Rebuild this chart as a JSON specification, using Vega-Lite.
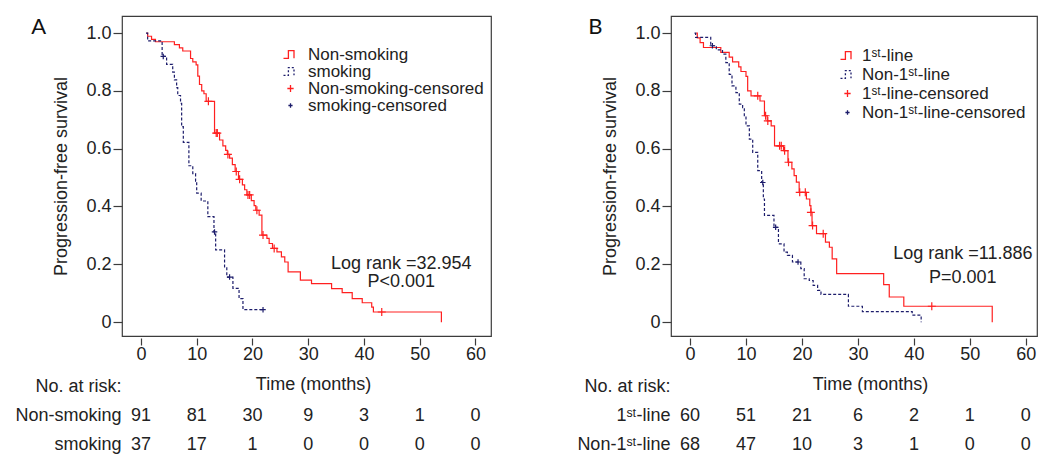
{
  "$schema": "https://vega.github.io/schema/vega-lite/v6.json",
  "background": "white",
  "padding": {"left": 14, "top": 15, "right": 5, "bottom": 0},
  "config": {
    "font": "Liberation Sans",
    "view": {"stroke": "#3c3c3c", "strokeWidth": 1.2},
    "axis": {"labelFont": "Liberation Sans", "titleFont": "Liberation Sans", "labelFontSize": 18, "titleFontSize": 18, "titleFontWeight": "normal", "labelColor": "#222", "titleColor": "#222", "tickColor": "#3c3c3c", "tickWidth": 1.2, "grid": false, "domain": false},
    "legend": {"labelFont": "Liberation Sans", "labelFontSize": 17, "labelColor": "#222", "symbolSize": 196, "rowPadding": 0, "labelOffset": 6, "symbolStrokeWidth": 1.3, "padding": 0, "labelLimit": 400}
  },
  "resolve": {"scale": {"color": "independent", "strokeDash": "independent", "size": "independent", "x": "independent", "y": "independent"}, "legend": {"color": "independent"}},
  "datasets": {
    "kmA": [
      {"g": "Non-smoking", "t": 1.0, "s": 1.0}, {"g": "Non-smoking", "t": 1.2, "s": 0.989}, {"g": "Non-smoking", "t": 1.9, "s": 0.978}, {"g": "Non-smoking", "t": 2.6, "s": 0.970},
      {"g": "Non-smoking", "t": 6.0, "s": 0.960}, {"g": "Non-smoking", "t": 6.9, "s": 0.949}, {"g": "Non-smoking", "t": 7.5, "s": 0.938}, {"g": "Non-smoking", "t": 8.9, "s": 0.912},
      {"g": "Non-smoking", "t": 9.3, "s": 0.900}, {"g": "Non-smoking", "t": 9.9, "s": 0.890}, {"g": "Non-smoking", "t": 10.2, "s": 0.851}, {"g": "Non-smoking", "t": 10.5, "s": 0.822},
      {"g": "Non-smoking", "t": 10.9, "s": 0.800}, {"g": "Non-smoking", "t": 11.3, "s": 0.790}, {"g": "Non-smoking", "t": 11.7, "s": 0.764}, {"g": "Non-smoking", "t": 13.2, "s": 0.654},
      {"g": "Non-smoking", "t": 14.1, "s": 0.630}, {"g": "Non-smoking", "t": 14.7, "s": 0.610}, {"g": "Non-smoking", "t": 15.2, "s": 0.594}, {"g": "Non-smoking", "t": 15.5, "s": 0.580},
      {"g": "Non-smoking", "t": 15.9, "s": 0.567}, {"g": "Non-smoking", "t": 16.4, "s": 0.545}, {"g": "Non-smoking", "t": 16.9, "s": 0.521}, {"g": "Non-smoking", "t": 17.5, "s": 0.494},
      {"g": "Non-smoking", "t": 18.2, "s": 0.475}, {"g": "Non-smoking", "t": 18.6, "s": 0.458}, {"g": "Non-smoking", "t": 19.0, "s": 0.440}, {"g": "Non-smoking", "t": 19.8, "s": 0.420},
      {"g": "Non-smoking", "t": 20.3, "s": 0.403}, {"g": "Non-smoking", "t": 20.6, "s": 0.387}, {"g": "Non-smoking", "t": 21.2, "s": 0.370}, {"g": "Non-smoking", "t": 21.7, "s": 0.301},
      {"g": "Non-smoking", "t": 22.6, "s": 0.290}, {"g": "Non-smoking", "t": 23.0, "s": 0.272}, {"g": "Non-smoking", "t": 23.6, "s": 0.255}, {"g": "Non-smoking", "t": 24.4, "s": 0.243},
      {"g": "Non-smoking", "t": 25.2, "s": 0.226}, {"g": "Non-smoking", "t": 25.8, "s": 0.208}, {"g": "Non-smoking", "t": 26.4, "s": 0.174}, {"g": "Non-smoking", "t": 28.6, "s": 0.145},
      {"g": "Non-smoking", "t": 30.6, "s": 0.133}, {"g": "Non-smoking", "t": 34.2, "s": 0.116}, {"g": "Non-smoking", "t": 36.1, "s": 0.102}, {"g": "Non-smoking", "t": 37.9, "s": 0.081},
      {"g": "Non-smoking", "t": 39.7, "s": 0.067}, {"g": "Non-smoking", "t": 41.4, "s": 0.052}, {"g": "Non-smoking", "t": 41.7, "s": 0.035}, {"g": "Non-smoking", "t": 53.9, "s": 0.0},
      {"g": "smoking", "t": 0.9, "s": 1.0}, {"g": "smoking", "t": 1.2, "s": 0.973}, {"g": "smoking", "t": 3.8, "s": 0.919}, {"g": "smoking", "t": 4.6, "s": 0.892},
      {"g": "smoking", "t": 5.7, "s": 0.865}, {"g": "smoking", "t": 6.0, "s": 0.838}, {"g": "smoking", "t": 6.4, "s": 0.811}, {"g": "smoking", "t": 6.6, "s": 0.784},
      {"g": "smoking", "t": 7.1, "s": 0.757}, {"g": "smoking", "t": 7.3, "s": 0.676}, {"g": "smoking", "t": 7.6, "s": 0.622}, {"g": "smoking", "t": 8.6, "s": 0.541},
      {"g": "smoking", "t": 9.3, "s": 0.514}, {"g": "smoking", "t": 9.8, "s": 0.487}, {"g": "smoking", "t": 10.0, "s": 0.446}, {"g": "smoking", "t": 10.8, "s": 0.419},
      {"g": "smoking", "t": 12.0, "s": 0.365}, {"g": "smoking", "t": 13.1, "s": 0.312}, {"g": "smoking", "t": 13.4, "s": 0.250}, {"g": "smoking", "t": 15.0, "s": 0.191},
      {"g": "smoking", "t": 15.4, "s": 0.156}, {"g": "smoking", "t": 16.5, "s": 0.117}, {"g": "smoking", "t": 17.6, "s": 0.081}, {"g": "smoking", "t": 18.3, "s": 0.043},
      {"g": "smoking", "t": 21.9, "s": 0.043}
    ],
    "censA": [
      {"g": "Non-smoking-censored", "t": 12.1, "s": 0.764}, {"g": "Non-smoking-censored", "t": 13.5, "s": 0.654}, {"g": "Non-smoking-censored", "t": 13.7, "s": 0.654},
      {"g": "Non-smoking-censored", "t": 15.6, "s": 0.580}, {"g": "Non-smoking-censored", "t": 17.1, "s": 0.521}, {"g": "Non-smoking-censored", "t": 17.7, "s": 0.494},
      {"g": "Non-smoking-censored", "t": 19.2, "s": 0.440}, {"g": "Non-smoking-censored", "t": 19.5, "s": 0.440}, {"g": "Non-smoking-censored", "t": 20.8, "s": 0.387},
      {"g": "Non-smoking-censored", "t": 21.9, "s": 0.301}, {"g": "Non-smoking-censored", "t": 23.9, "s": 0.255}, {"g": "Non-smoking-censored", "t": 43.2, "s": 0.035},
      {"g": "smoking-censored", "t": 4.0, "s": 0.919}, {"g": "smoking-censored", "t": 13.2, "s": 0.312}, {"g": "smoking-censored", "t": 15.9, "s": 0.156},
      {"g": "smoking-censored", "t": 21.9, "s": 0.043}
    ],
    "kmB": [
      {"g": "1ˢᵗ-line", "t": 1.1, "s": 1.0}, {"g": "1ˢᵗ-line", "t": 1.3, "s": 0.983}, {"g": "1ˢᵗ-line", "t": 1.8, "s": 0.967}, {"g": "1ˢᵗ-line", "t": 2.4, "s": 0.950},
      {"g": "1ˢᵗ-line", "t": 5.5, "s": 0.933}, {"g": "1ˢᵗ-line", "t": 7.0, "s": 0.917}, {"g": "1ˢᵗ-line", "t": 7.6, "s": 0.900}, {"g": "1ˢᵗ-line", "t": 8.7, "s": 0.883},
      {"g": "1ˢᵗ-line", "t": 9.1, "s": 0.867}, {"g": "1ˢᵗ-line", "t": 10.0, "s": 0.850}, {"g": "1ˢᵗ-line", "t": 10.3, "s": 0.800}, {"g": "1ˢᵗ-line", "t": 10.9, "s": 0.783},
      {"g": "1ˢᵗ-line", "t": 12.5, "s": 0.765}, {"g": "1ˢᵗ-line", "t": 13.3, "s": 0.714}, {"g": "1ˢᵗ-line", "t": 13.8, "s": 0.696}, {"g": "1ˢᵗ-line", "t": 14.5, "s": 0.679},
      {"g": "1ˢᵗ-line", "t": 15.1, "s": 0.610}, {"g": "1ˢᵗ-line", "t": 16.7, "s": 0.593}, {"g": "1ˢᵗ-line", "t": 17.5, "s": 0.553}, {"g": "1ˢᵗ-line", "t": 18.2, "s": 0.530},
      {"g": "1ˢᵗ-line", "t": 18.6, "s": 0.507}, {"g": "1ˢᵗ-line", "t": 19.0, "s": 0.484}, {"g": "1ˢᵗ-line", "t": 19.5, "s": 0.449}, {"g": "1ˢᵗ-line", "t": 20.8, "s": 0.426},
      {"g": "1ˢᵗ-line", "t": 21.4, "s": 0.403}, {"g": "1ˢᵗ-line", "t": 21.6, "s": 0.380}, {"g": "1ˢᵗ-line", "t": 21.8, "s": 0.334}, {"g": "1ˢᵗ-line", "t": 22.6, "s": 0.306},
      {"g": "1ˢᵗ-line", "t": 24.2, "s": 0.277}, {"g": "1ˢᵗ-line", "t": 24.9, "s": 0.259}, {"g": "1ˢᵗ-line", "t": 25.4, "s": 0.219}, {"g": "1ˢᵗ-line", "t": 26.2, "s": 0.168},
      {"g": "1ˢᵗ-line", "t": 34.6, "s": 0.130}, {"g": "1ˢᵗ-line", "t": 35.6, "s": 0.087}, {"g": "1ˢᵗ-line", "t": 38.2, "s": 0.055}, {"g": "1ˢᵗ-line", "t": 54.0, "s": 0.0},
      {"g": "Non-1ˢᵗ-line", "t": 0.8, "s": 1.0}, {"g": "Non-1ˢᵗ-line", "t": 1.0, "s": 0.985}, {"g": "Non-1ˢᵗ-line", "t": 3.7, "s": 0.956}, {"g": "Non-1ˢᵗ-line", "t": 4.7, "s": 0.942},
      {"g": "Non-1ˢᵗ-line", "t": 5.8, "s": 0.927}, {"g": "Non-1ˢᵗ-line", "t": 6.4, "s": 0.898}, {"g": "Non-1ˢᵗ-line", "t": 7.0, "s": 0.857}, {"g": "Non-1ˢᵗ-line", "t": 7.5, "s": 0.817},
      {"g": "Non-1ˢᵗ-line", "t": 8.2, "s": 0.794}, {"g": "Non-1ˢᵗ-line", "t": 8.8, "s": 0.754}, {"g": "Non-1ˢᵗ-line", "t": 9.4, "s": 0.742}, {"g": "Non-1ˢᵗ-line", "t": 9.7, "s": 0.714},
      {"g": "Non-1ˢᵗ-line", "t": 10.0, "s": 0.679}, {"g": "Non-1ˢᵗ-line", "t": 10.6, "s": 0.633}, {"g": "Non-1ˢᵗ-line", "t": 11.2, "s": 0.587}, {"g": "Non-1ˢᵗ-line", "t": 12.1, "s": 0.524},
      {"g": "Non-1ˢᵗ-line", "t": 12.8, "s": 0.483}, {"g": "Non-1ˢᵗ-line", "t": 13.1, "s": 0.426}, {"g": "Non-1ˢᵗ-line", "t": 13.3, "s": 0.369}, {"g": "Non-1ˢᵗ-line", "t": 15.0, "s": 0.328},
      {"g": "Non-1ˢᵗ-line", "t": 15.8, "s": 0.271}, {"g": "Non-1ˢᵗ-line", "t": 16.8, "s": 0.242}, {"g": "Non-1ˢᵗ-line", "t": 17.4, "s": 0.231}, {"g": "Non-1ˢᵗ-line", "t": 18.3, "s": 0.208},
      {"g": "Non-1ˢᵗ-line", "t": 19.8, "s": 0.185}, {"g": "Non-1ˢᵗ-line", "t": 20.4, "s": 0.150}, {"g": "Non-1ˢᵗ-line", "t": 21.3, "s": 0.144}, {"g": "Non-1ˢᵗ-line", "t": 22.0, "s": 0.127},
      {"g": "Non-1ˢᵗ-line", "t": 22.8, "s": 0.110}, {"g": "Non-1ˢᵗ-line", "t": 23.4, "s": 0.096}, {"g": "Non-1ˢᵗ-line", "t": 28.3, "s": 0.055}, {"g": "Non-1ˢᵗ-line", "t": 30.8, "s": 0.036},
      {"g": "Non-1ˢᵗ-line", "t": 39.7, "s": 0.024}, {"g": "Non-1ˢᵗ-line", "t": 41.3, "s": 0.0}
    ],
    "censB": [
      {"g": "1ˢᵗ-line-censored", "t": 12.1, "s": 0.783}, {"g": "1ˢᵗ-line-censored", "t": 13.5, "s": 0.714}, {"g": "1ˢᵗ-line-censored", "t": 13.9, "s": 0.696},
      {"g": "1ˢᵗ-line-censored", "t": 16.0, "s": 0.610}, {"g": "1ˢᵗ-line-censored", "t": 16.3, "s": 0.610}, {"g": "1ˢᵗ-line-censored", "t": 16.9, "s": 0.593},
      {"g": "1ˢᵗ-line-censored", "t": 17.6, "s": 0.553}, {"g": "1ˢᵗ-line-censored", "t": 19.6, "s": 0.449}, {"g": "1ˢᵗ-line-censored", "t": 20.6, "s": 0.449},
      {"g": "1ˢᵗ-line-censored", "t": 21.6, "s": 0.380}, {"g": "1ˢᵗ-line-censored", "t": 21.9, "s": 0.334}, {"g": "1ˢᵗ-line-censored", "t": 23.8, "s": 0.306},
      {"g": "1ˢᵗ-line-censored", "t": 43.2, "s": 0.055},
      {"g": "Non-1ˢᵗ-line-censored", "t": 4.0, "s": 0.956}, {"g": "Non-1ˢᵗ-line-censored", "t": 13.0, "s": 0.483}, {"g": "Non-1ˢᵗ-line-censored", "t": 15.3, "s": 0.328},
      {"g": "Non-1ˢᵗ-line-censored", "t": 19.3, "s": 0.208}
    ],
    "riskA": [
      {"row": "Non-smoking", "t": 0, "n": "91"}, {"row": "Non-smoking", "t": 10, "n": "81"}, {"row": "Non-smoking", "t": 20, "n": "30"}, {"row": "Non-smoking", "t": 30, "n": "9"},
      {"row": "Non-smoking", "t": 40, "n": "3"}, {"row": "Non-smoking", "t": 50, "n": "1"}, {"row": "Non-smoking", "t": 60, "n": "0"},
      {"row": "smoking", "t": 0, "n": "37"}, {"row": "smoking", "t": 10, "n": "17"}, {"row": "smoking", "t": 20, "n": "1"}, {"row": "smoking", "t": 30, "n": "0"},
      {"row": "smoking", "t": 40, "n": "0"}, {"row": "smoking", "t": 50, "n": "0"}, {"row": "smoking", "t": 60, "n": "0"}
    ],
    "riskB": [
      {"row": "1ˢᵗ-line", "t": 0, "n": "60"}, {"row": "1ˢᵗ-line", "t": 10, "n": "51"}, {"row": "1ˢᵗ-line", "t": 20, "n": "21"}, {"row": "1ˢᵗ-line", "t": 30, "n": "6"},
      {"row": "1ˢᵗ-line", "t": 40, "n": "2"}, {"row": "1ˢᵗ-line", "t": 50, "n": "1"}, {"row": "1ˢᵗ-line", "t": 60, "n": "0"},
      {"row": "Non-1ˢᵗ-line", "t": 0, "n": "68"}, {"row": "Non-1ˢᵗ-line", "t": 10, "n": "47"}, {"row": "Non-1ˢᵗ-line", "t": 20, "n": "10"}, {"row": "Non-1ˢᵗ-line", "t": 30, "n": "3"},
      {"row": "Non-1ˢᵗ-line", "t": 40, "n": "1"}, {"row": "Non-1ˢᵗ-line", "t": 50, "n": "0"}, {"row": "Non-1ˢᵗ-line", "t": 60, "n": "0"}
    ],
    "notesA": [{"txt": "A"}],
    "notesB": [{"txt": "B"}]
  },
  "columns": 2,
  "bounds": "flush",
  "spacing": {"row": 36, "column": 180},
  "concat": [
    {
      "width": 369, "height": 320,
      "layer": [
        {
          "data": {"name": "kmA"},
          "mark": {"type": "line", "interpolate": "step-after", "strokeWidth": 1.2, "clip": true},
          "encoding": {
            "x": {"field": "t", "type": "quantitative", "title": "Time (months)", "scale": {"domain": [-3.4, 62.8], "nice": false, "zero": false},
                  "axis": {"values": [0, 10, 20, 30, 40, 50, 60], "tickSize": 7, "offset": 2, "labelPadding": 0, "labelFlush": false, "titleX": 191, "titleY": 46, "titleBaseline": "middle"}},
            "y": {"field": "s", "type": "quantitative", "title": "Progression-free survival", "scale": {"domain": [-0.048, 1.059], "nice": false, "zero": false},
                  "axis": {"values": [0, 0.2, 0.4, 0.6, 0.8, 1], "tickSize": 9, "labelPadding": 2, "labelExpr": "datum.value == 0 ? '0' : format(datum.value, '.1f')", "titlePadding": 15}},
            "color": {"field": "g", "type": "nominal",
              "scale": {"domain": ["Non-smoking", "smoking", "Non-smoking-censored", "smoking-censored"], "range": ["#ff2020", "#1c1c6b", "#ff2020", "#1c1c6b"]},
              "legend": {"orient": "none", "legendX": 160, "legendY": 30, "title": null, "rowPadding": -1, "labelOffset": 9,
                "encode": {"symbols": {"update": {
                  "shape": {"signal": "indexof(datum.value,'censored')>=0 ? ((indexof(datum.value,'smoking')==0 || indexof(datum.value,'Non-1')==0) ? 'M-0.3,0H0.3M0,-0.32V0.32' : 'M-0.45,0H0.45M0,-0.5V0.5') : 'M-1,0.55H-0.3V-0.55H0.5V0.55'"},
                  "stroke": {"signal": "(indexof(datum.value,'smoking')==0 || indexof(datum.value,'Non-1')==0) ? '#1c1c6b' : '#ff2020'"},
                  "strokeDash": {"signal": "((indexof(datum.value,'smoking')==0 || indexof(datum.value,'Non-1')==0) && indexof(datum.value,'censored')<0) ? [2,2] : [1,0]"},
                  "fill": {"value": "transparent"},
                  "opacity": {"value": 1}
                }}}}},
            "strokeDash": {"field": "g", "type": "nominal", "scale": {"domain": ["Non-smoking", "smoking"], "range": [[1, 0], [3, 2]]}, "legend": null}
          }
        },
        {
          "data": {"name": "censA"},
          "mark": {"type": "point", "shape": "M-1,0H1M0,-1V1", "filled": false, "strokeWidth": 1.2, "opacity": 1},
          "encoding": {
            "x": {"field": "t", "type": "quantitative", "title": "Time (months)"},
            "y": {"field": "s", "type": "quantitative", "title": "Progression-free survival"},
            "color": {"field": "g", "type": "nominal"},
            "size": {"field": "g", "type": "ordinal", "scale": {"domain": ["Non-smoking-censored", "smoking-censored"], "range": [64, 30]}, "legend": null}
          }
        },
        {
          "data": {"name": "notesA"},
          "mark": {"type": "text", "text": ["Log rank =32.954", "P<0.001"], "fontSize": 18, "lineHeight": 18, "align": "center", "baseline": "middle", "color": "#222"},
          "encoding": {"x": {"datum": 46.7, "title": "Time (months)"}, "y": {"datum": 0.201, "title": "Progression-free survival"}}
        },
        {
          "data": {"name": "notesA"},
          "mark": {"type": "text", "font": "Lato", "fontSize": 22, "align": "left", "baseline": "alphabetic", "color": "#111"},
          "encoding": {"text": {"field": "txt"}, "x": {"datum": -19.7, "title": "Time (months)"}, "y": {"datum": 0.997, "title": "Progression-free survival"}}
        }
      ]
    },
    {
      "width": 366, "height": 320,
      "layer": [
        {
          "data": {"name": "kmB"},
          "mark": {"type": "line", "interpolate": "step-after", "strokeWidth": 1.2, "clip": true},
          "encoding": {
            "x": {"field": "t", "type": "quantitative", "title": "Time (months)", "scale": {"domain": [-3.4, 62.0], "nice": false, "zero": false},
                  "axis": {"values": [0, 10, 20, 30, 40, 50, 60], "tickSize": 7, "offset": 2, "labelPadding": 0, "labelFlush": false, "titleX": 199, "titleY": 46, "titleBaseline": "middle"}},
            "y": {"field": "s", "type": "quantitative", "title": "Progression-free survival", "scale": {"domain": [-0.048, 1.059], "nice": false, "zero": false},
                  "axis": {"values": [0, 0.2, 0.4, 0.6, 0.8, 1], "tickSize": 9, "labelPadding": 2, "labelExpr": "datum.value == 0 ? '0' : format(datum.value, '.1f')", "titlePadding": 15}},
            "color": {"field": "g", "type": "nominal",
              "scale": {"domain": ["1ˢᵗ-line", "Non-1ˢᵗ-line", "1ˢᵗ-line-censored", "Non-1ˢᵗ-line-censored"], "range": ["#ff2020", "#1c1c6b", "#ff2020", "#1c1c6b"]},
              "legend": {"orient": "none", "legendX": 168, "legendY": 31, "title": null, "rowPadding": 1,
                "encode": {"symbols": {"update": {
                  "shape": {"signal": "indexof(datum.value,'censored')>=0 ? ((indexof(datum.value,'smoking')==0 || indexof(datum.value,'Non-1')==0) ? 'M-0.3,0H0.3M0,-0.32V0.32' : 'M-0.45,0H0.45M0,-0.5V0.5') : 'M-1,0.55H-0.3V-0.55H0.5V0.55'"},
                  "stroke": {"signal": "(indexof(datum.value,'smoking')==0 || indexof(datum.value,'Non-1')==0) ? '#1c1c6b' : '#ff2020'"},
                  "strokeDash": {"signal": "((indexof(datum.value,'smoking')==0 || indexof(datum.value,'Non-1')==0) && indexof(datum.value,'censored')<0) ? [2,2] : [1,0]"},
                  "fill": {"value": "transparent"},
                  "opacity": {"value": 1}
                }}}}},
            "strokeDash": {"field": "g", "type": "nominal", "scale": {"domain": ["1ˢᵗ-line", "Non-1ˢᵗ-line"], "range": [[1, 0], [3, 2]]}, "legend": null}
          }
        },
        {
          "data": {"name": "censB"},
          "mark": {"type": "point", "shape": "M-1,0H1M0,-1V1", "filled": false, "strokeWidth": 1.2, "opacity": 1},
          "encoding": {
            "x": {"field": "t", "type": "quantitative", "title": "Time (months)"},
            "y": {"field": "s", "type": "quantitative", "title": "Progression-free survival"},
            "color": {"field": "g", "type": "nominal"},
            "size": {"field": "g", "type": "ordinal", "scale": {"domain": ["1ˢᵗ-line-censored", "Non-1ˢᵗ-line-censored"], "range": [64, 30]}, "legend": null}
          }
        },
        {
          "data": {"name": "notesB"},
          "mark": {"type": "text", "text": ["Log rank =11.886", "P=0.001"], "fontSize": 18, "lineHeight": 24, "align": "center", "baseline": "middle", "color": "#222"},
          "encoding": {"x": {"datum": 48.75, "title": "Time (months)"}, "y": {"datum": 0.236, "title": "Progression-free survival"}}
        },
        {
          "data": {"name": "notesB"},
          "mark": {"type": "text", "font": "Lato", "fontSize": 22, "align": "left", "baseline": "alphabetic", "color": "#111"},
          "encoding": {"text": {"field": "txt"}, "x": {"datum": -18.2, "title": "Time (months)"}, "y": {"datum": 0.997, "title": "Progression-free survival"}}
        }
      ]
    },
    {
      "width": 369, "height": 87,
      "view": {"stroke": null},
      "data": {"name": "riskA"},
      "mark": {"type": "text", "fontSize": 18, "color": "#222", "align": "center", "baseline": "middle"},
      "encoding": {
        "x": {"field": "t", "type": "quantitative", "scale": {"domain": [-3.4, 62.8], "nice": false, "zero": false}, "axis": null},
        "y": {"field": "row", "type": "nominal", "scale": {"domain": ["No. at risk:", "Non-smoking", "smoking"]},
              "axis": {"title": null, "ticks": false, "domain": false, "labelPadding": 1, "labelFontSize": 18}},
        "text": {"field": "n", "type": "nominal"}
      }
    },
    {
      "width": 366, "height": 87,
      "view": {"stroke": null},
      "data": {"name": "riskB"},
      "mark": {"type": "text", "fontSize": 18, "color": "#222", "align": "center", "baseline": "middle"},
      "encoding": {
        "x": {"field": "t", "type": "quantitative", "scale": {"domain": [-3.4, 62.0], "nice": false, "zero": false}, "axis": null},
        "y": {"field": "row", "type": "nominal", "scale": {"domain": ["No. at risk:", "1ˢᵗ-line", "Non-1ˢᵗ-line"]},
              "axis": {"title": null, "ticks": false, "domain": false, "labelPadding": 1, "labelFontSize": 18}},
        "text": {"field": "n", "type": "nominal"}
      }
    }
  ]
}
